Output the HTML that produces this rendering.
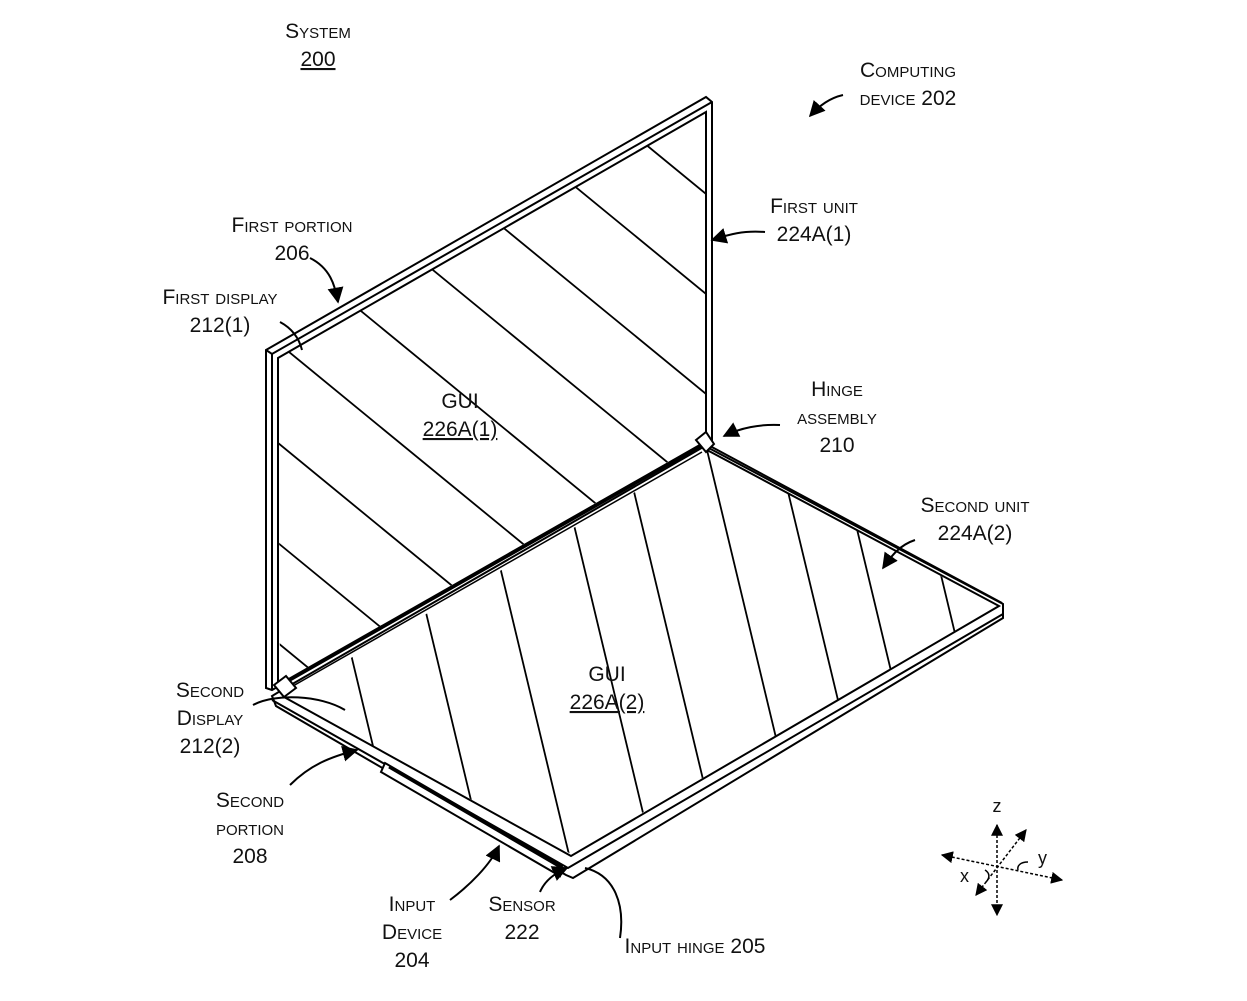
<!DOCTYPE html>
<html><head><style>
html,body{margin:0;padding:0;background:#fff;width:1247px;height:1001px;overflow:hidden}
svg{display:block}
text{font-family:"Liberation Sans",sans-serif;font-size:21px;fill:#111}
.sc{font-variant:small-caps}
</style></head><body>
<svg width="1247" height="1001" viewBox="0 0 1247 1001" xmlns="http://www.w3.org/2000/svg">
<defs>
<clipPath id="c1"><polygon points="278,357 706,112 706,440 280,683"/></clipPath>
<clipPath id="c2"><polygon points="707,450 998,607 571,854 284,697"/></clipPath>
<marker id="ar" viewBox="0 0 10 10" refX="9" refY="5" markerWidth="8" markerHeight="8" orient="auto-start-reverse"><path d="M0,0 L10,5 L0,10 z" fill="#000"/></marker>
</defs>
<g stroke="#000" fill="none" stroke-width="2">
<polygon points="266,350 706,97 712,102 712,440 272,690 266,688" fill="#fff"/>
<polyline points="266,350 272,354 712,102"/>
<line x1="272" y1="354" x2="272" y2="690"/>
<polyline points="278,690 278,358 706,112 706,440"/>
<g clip-path="url(#c1)" stroke-width="1.8">
<line x1="200" y1="-221" x2="800" y2="271"/>
<line x1="200" y1="-121" x2="800" y2="371"/>
<line x1="200" y1="-21" x2="800" y2="471"/>
<line x1="200" y1="79" x2="800" y2="571"/>
<line x1="200" y1="179" x2="800" y2="671"/>
<line x1="200" y1="279" x2="800" y2="771"/>
<line x1="200" y1="379" x2="800" y2="871"/>
<line x1="200" y1="479" x2="800" y2="971"/>
<line x1="200" y1="579" x2="800" y2="1071"/>
<line x1="200" y1="679" x2="800" y2="1171"/>
</g>
<polygon points="705,446 1003,604 1003,618 573,878 566,875 276,706 272,696 282,690" fill="#fff"/>
<polyline points="284,697 571,856 999,606 707,450"/>
<polyline points="272,700 568,868 1003,614"/>
<line x1="710" y1="446" x2="1002" y2="603"/>
<g clip-path="url(#c2)" stroke-width="1.8">
<line x1="707" y1="450" x2="807" y2="867"/>
<line x1="624" y1="450" x2="724" y2="867"/>
<line x1="556" y1="450" x2="656" y2="867"/>
<line x1="472" y1="450" x2="572" y2="867"/>
<line x1="387" y1="450" x2="487" y2="867"/>
<line x1="302" y1="450" x2="402" y2="867"/>
<line x1="778" y1="450" x2="878" y2="867"/>
<line x1="838" y1="450" x2="938" y2="867"/>
<line x1="911" y1="450" x2="1011" y2="867"/>
</g>
<line x1="700" y1="446" x2="282" y2="684" stroke-width="4"/>
<line x1="702" y1="452" x2="286" y2="690" stroke-width="1.5"/>
<polygon points="696,440 706,432 714,444 706,452" fill="#fff"/>
<polygon points="274,685 286,676 296,688 284,697" fill="#fff"/>
<polygon points="385,763 562,866 560,876 381,772" fill="#fff"/>
<line x1="389" y1="767" x2="562" y2="868" stroke-width="3"/>
<path d="M310,258 C330,268 335,285 338,302" marker-end="url(#ar)"/>
<path d="M280,322 C295,330 300,342 302,350"/>
<path d="M765,232 C740,230 725,236 712,240" marker-end="url(#ar)"/>
<path d="M780,425 C760,424 740,428 724,436" marker-end="url(#ar)"/>
<path d="M915,540 C900,545 892,555 883,568" marker-end="url(#ar)"/>
<path d="M253,705 C275,693 320,695 345,710"/>
<path d="M290,785 C310,765 330,757 357,750" marker-end="url(#ar)"/>
<path d="M450,900 C470,885 490,865 499,846" marker-end="url(#ar)"/>
<path d="M540,892 C545,880 555,873 567,868" marker-end="url(#ar)"/>
<path d="M620,938 C625,905 615,875 585,868"/>
<path d="M843,95 C830,98 820,105 810,116" marker-end="url(#ar)"/>
<g stroke-dasharray="3,2" stroke-width="1.5">
<line x1="997" y1="825" x2="997" y2="915" marker-start="url(#ar)" marker-end="url(#ar)"/>
<line x1="942" y1="855" x2="1062" y2="880" marker-start="url(#ar)" marker-end="url(#ar)"/>
<line x1="1026" y1="830" x2="976" y2="895" marker-start="url(#ar)" marker-end="url(#ar)"/>
</g>
<path d="M985,870 C990,873 990,878 986,882" stroke-width="1.5"/>
<path d="M1028,862 C1020,862 1017,866 1018,870" stroke-width="1.5"/>
</g>
<g>
<text x="318" y="38" text-anchor="middle" class="sc">System</text>
<text x="318" y="66" text-anchor="middle" text-decoration="underline">200</text>
<text x="908" y="77" text-anchor="middle" class="sc">Computing</text>
<text x="908" y="105" text-anchor="middle" class="sc">device 202</text>
<text x="292" y="232" text-anchor="middle" class="sc">First portion</text>
<text x="292" y="260" text-anchor="middle">206</text>
<text x="220" y="304" text-anchor="middle" class="sc">First display</text>
<text x="220" y="332" text-anchor="middle">212(1)</text>
<text x="814" y="213" text-anchor="middle" class="sc">First unit</text>
<text x="814" y="241" text-anchor="middle">224A(1)</text>
<text x="837" y="396" text-anchor="middle" class="sc">Hinge</text>
<text x="837" y="424" text-anchor="middle" class="sc">assembly</text>
<text x="837" y="452" text-anchor="middle">210</text>
<text x="975" y="512" text-anchor="middle" class="sc">Second unit</text>
<text x="975" y="540" text-anchor="middle">224A(2)</text>
<text x="460" y="408" text-anchor="middle">GUI</text>
<text x="460" y="436" text-anchor="middle" text-decoration="underline">226A(1)</text>
<text x="607" y="681" text-anchor="middle">GUI</text>
<text x="607" y="709" text-anchor="middle" text-decoration="underline">226A(2)</text>
<text x="210" y="697" text-anchor="middle" class="sc">Second</text>
<text x="210" y="725" text-anchor="middle" class="sc">Display</text>
<text x="210" y="753" text-anchor="middle">212(2)</text>
<text x="250" y="807" text-anchor="middle" class="sc">Second</text>
<text x="250" y="835" text-anchor="middle" class="sc">portion</text>
<text x="250" y="863" text-anchor="middle">208</text>
<text x="412" y="911" text-anchor="middle" class="sc">Input</text>
<text x="412" y="939" text-anchor="middle" class="sc">Device</text>
<text x="412" y="967" text-anchor="middle">204</text>
<text x="522" y="911" text-anchor="middle" class="sc">Sensor</text>
<text x="522" y="939" text-anchor="middle">222</text>
<text x="695" y="953" text-anchor="middle" class="sc">Input hinge 205</text>
<text x="997" y="812" text-anchor="middle" style="font-size:18px">z</text>
<text x="1038" y="864" style="font-size:18px">y</text>
<text x="960" y="882" style="font-size:18px">x</text>
</g>
</svg>
</body></html>
